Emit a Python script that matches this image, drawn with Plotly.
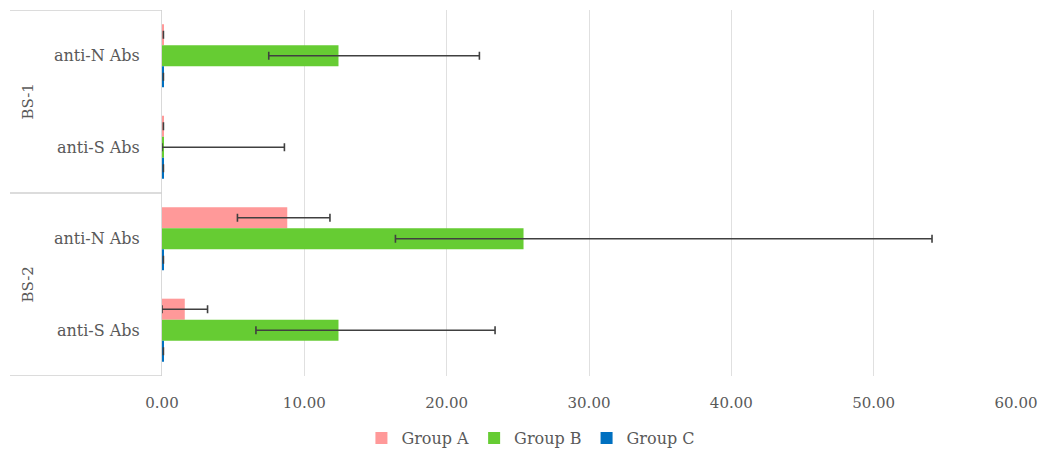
import plotly.graph_objects as go

groups = ["BS-1", "BS-1", "BS-2", "BS-2"]
subs = ["anti-N Abs", "anti-S Abs", "anti-N Abs", "anti-S Abs"]
series = ["Group A", "Group B", "Group C"]
colors = ["#FF9999", "#66CC33", "#0070C0"]

values_a = [0.1, 0.1, 8.8, 1.6]
values_b = [12.4, 0.1, 25.4, 12.4]
values_c = [0.1, 0.1, 0.1, 0.1]
err_plus_a = [0.0, 0.0, 3.0, 1.6]
err_minus_a = [0.0, 0.0, 3.5, 1.6]
err_plus_b = [9.9, 8.5, 28.7, 11.0]
err_minus_b = [4.9, 0.1, 9.0, 5.8]
err_plus_c = [0.0, 0.0, 0.0, 0.0]
err_minus_c = [0.0, 0.0, 0.0, 0.0]

x_ticks = [0, 10, 20, 30, 40, 50, 60]

ykeys = [g + "|" + s for g, s in zip(groups, subs)]

FONT = "DejaVu Serif"
GREY = "#595959"

fig = go.Figure()
for name, col, vals, ep, em in zip(
    series, colors,
    [values_a, values_b, values_c],
    [err_plus_a, err_plus_b, err_plus_c],
    [err_minus_a, err_minus_b, err_minus_c],
):
    fig.add_trace(go.Bar(
        name=name, y=ykeys, x=vals, orientation="h",
        marker=dict(color=col, line=dict(width=0)),
        error_x=dict(type="data", symmetric=False, array=ep, arrayminus=em,
                     color="#404040", thickness=1.6, width=4),
    ))

fig.update_layout(
    width=1040, height=454,
    margin=dict(l=162, r=24, t=10, b=78, autoexpand=False),
    paper_bgcolor="white", plot_bgcolor="white",
    barmode="group", bargap=0.31, bargroupgap=0,
    font=dict(family=FONT, size=15, color=GREY),
    legend=dict(orientation="h", x=0.432, xanchor="center",
                yref="container", y=(454 - 438) / 454, yanchor="middle",
                font=dict(family=FONT, size=16, color=GREY), traceorder="normal",
                itemwidth=30, tracegroupgap=0),
    showlegend=True,
)
fig.update_xaxes(
    range=[0, 60], tickvals=x_ticks, tickformat=".2f",
    showgrid=True, gridcolor="#E0E0E0", gridwidth=1,
    zeroline=False, showline=False, ticks="",
    ticklabelstandoff=16, automargin=False,
    tickfont=dict(family=FONT, size=15, color=GREY),
)
fig.update_yaxes(
    type="category", categoryorder="array", categoryarray=ykeys,
    range=[3.5, -0.5],
    tickvals=ykeys, ticktext=subs,
    showgrid=False, zeroline=False,
    showline=True, linecolor="#D9D9D9", linewidth=1,
    ticks="", ticklabelstandoff=18, automargin=False,
    tickfont=dict(family=FONT, size=16, color=GREY),
)

# group labels and box dividers
uniq = []
for g in groups:
    if g not in uniq:
        uniq.append(g)
for g in uniq:
    idx = [i for i, gg in enumerate(groups) if gg == g]
    fig.add_annotation(
        text=g, xref="paper", yref="y", x=-0.158, y=(idx[0] + idx[-1]) / 2,
        textangle=-90, showarrow=False, xanchor="center", yanchor="middle",
        font=dict(family=FONT, size=15, color=GREY),
    )
bounds = [-0.5]
for g in uniq:
    idx = [i for i, gg in enumerate(groups) if gg == g]
    bounds.append(idx[-1] + 0.5)
for b in bounds:
    fig.add_shape(type="line", xref="paper", yref="y", x0=-0.178, x1=0, y0=b, y1=b,
                  line=dict(color="#D0D0D0", width=1.5))

fig.write_html("out.html")
